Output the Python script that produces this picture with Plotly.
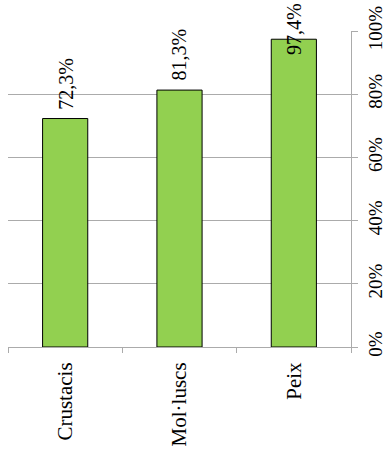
import plotly.graph_objects as go

categories = ["Crustacis", "Mol·luscs", "Peix"]
values = [72.3, 81.3, 97.4]
label_shift = [8, 8, -17]

FONT = "Liberation Serif"
GREEN = "#92D050"
GRID = "#ababab"

fig = go.Figure(
    go.Bar(
        x=categories,
        y=values,
        marker=dict(color=GREEN, line=dict(color="#000000", width=1)),
        width=0.395,
    )
)

for cat, val, dy in zip(categories, values, label_shift):
    fig.add_annotation(
        x=cat,
        y=val,
        text=f"{val:.1f}".replace(".", ",") + "%",
        textangle=-90,
        showarrow=False,
        xanchor="center",
        yanchor="bottom",
        yshift=dy,
        borderpad=0,
        font=dict(family=FONT, size=20, color="#000000"),
    )

fig.update_layout(
    width=386,
    height=456,
    margin=dict(l=8, r=35, t=31, b=109),
    paper_bgcolor="white",
    plot_bgcolor="white",
    showlegend=False,
    font=dict(family=FONT, size=20, color="#000000"),
    xaxis=dict(
        type="category",
        automargin=False,
        tickson="boundaries",
        ticks="outside",
        ticklen=5,
        tickcolor=GRID,
        showline=True,
        linecolor=GRID,
        linewidth=1,
        tickangle=-90,
        ticklabelstandoff=6,
        tickfont=dict(size=21),
        showgrid=False,
    ),
    yaxis=dict(
        side="right",
        automargin=False,
        range=[0, 100],
        dtick=20,
        ticksuffix="%",
        ticks="outside",
        ticklen=6,
        tickcolor=GRID,
        showline=True,
        linecolor=GRID,
        showgrid=True,
        gridcolor=GRID,
        gridwidth=1,
        zeroline=False,
        tickangle=-90,
        tickfont=dict(size=19),
        ticklabelstandoff=1,
    ),
)

fig.write_html("out.html")
